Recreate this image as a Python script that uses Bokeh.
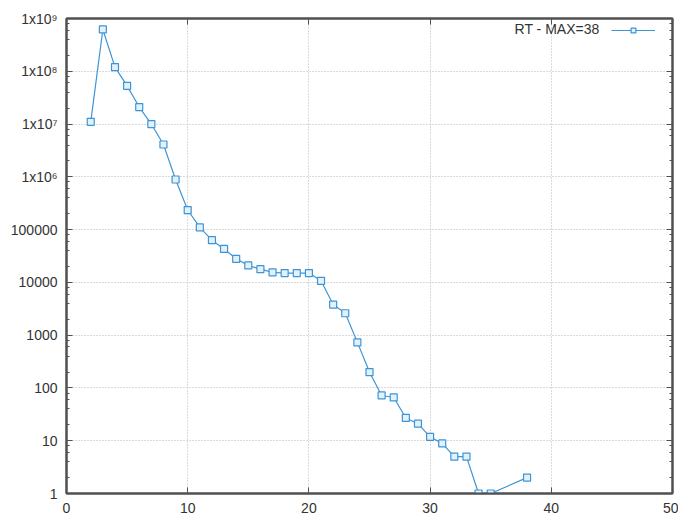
from bokeh.plotting import figure
from bokeh.models import LinearAxis, LogAxis, FixedTicker, Legend, LegendItem, Label, Grid
from bokeh.embed import file_html
from bokeh.resources import INLINE

# ---- data ----
x_vals = [2, 3, 4, 5, 6, 7, 8, 9, 10, 11, 12, 13, 14, 15, 16, 17, 18, 19, 20,
          21, 22, 23, 24, 25, 26, 27, 28, 29, 30, 31, 32, 33, 34, 35, 38]
y_vals = [1.1e7, 6.2e8, 1.2e8, 5.3e7, 2.1e7, 1.0e7, 4.1e6, 8.9e5, 2.35e5, 1.1e5,
          6.3e4, 4.3e4, 2.8e4, 2.1e4, 1.78e4, 1.55e4, 1.5e4, 1.5e4, 1.5e4,
          1.07e4, 3800, 2600, 730, 200, 72, 66, 27, 21, 11.8, 8.9, 5, 5, 1, 1, 2]
series_label = "RT - MAX=38"
x_ticks = [0, 10, 20, 30, 40, 50]
y_ticks = [1, 10, 100, 1000, 10000, 100000, 1e6, 1e7, 1e8, 1e9]
y_tick_labels = ["1", "10", "100", "1000", "10000", "100000",
                 "1x10\u2076", "1x10\u2077", "1x10\u2078", "1x10\u2079"]
y_minor = [m * 10**e for e in range(0, 9) for m in (2, 4, 6, 8)]

FONT = "Liberation Sans"
AX = "#505050"
TXT = "#333333"
BLUE = "#3d95d6"

p = figure(width=678, height=519, x_range=(0, 50), y_range=(1, 1e9),
           y_axis_type="log", output_backend="svg", toolbar_location=None,
           x_axis_type=None,
           min_border_left=66, min_border_right=6, min_border_top=18, min_border_bottom=26)
p.background_fill_color = "white"
p.outline_line_color = AX
p.outline_line_width = 2

xb = LinearAxis(ticker=FixedTicker(ticks=x_ticks))
p.add_layout(xb, "below")
xt = LinearAxis(ticker=FixedTicker(ticks=x_ticks))
p.add_layout(xt, "above")
yr = LogAxis(ticker=FixedTicker(ticks=y_ticks, minor_ticks=y_minor))
p.add_layout(yr, "right")

p.yaxis[0].ticker = FixedTicker(ticks=y_ticks, minor_ticks=y_minor)
p.yaxis[0].major_label_overrides = {t: l for t, l in zip(y_ticks, y_tick_labels)}

for ax in [xb, xt, p.yaxis[0], yr]:
    ax.axis_line_color = AX
    ax.axis_line_width = 2
    ax.major_tick_line_color = AX
    ax.minor_tick_line_color = AX
    ax.major_tick_in = 6
    ax.major_tick_out = 0
    ax.minor_tick_in = 3
    ax.minor_tick_out = 0
    ax.major_label_text_font = FONT
    ax.major_label_text_font_size = "14px"
    ax.major_label_text_color = TXT
    ax.major_label_standoff = 9

for ax in [xt, yr]:
    ax.major_label_text_font_size = "0px"
    ax.major_label_standoff = 0
    ax.major_label_text_color = None

for g in p.grid:
    g.visible = False
p.add_layout(Grid(dimension=0, ticker=FixedTicker(ticks=x_ticks[1:-1]),
                  grid_line_color="#b4b4b4", grid_line_dash="1 2", grid_line_width=1))
p.add_layout(Grid(dimension=1, ticker=FixedTicker(ticks=y_ticks[1:-1]),
                  grid_line_color="#b4b4b4", grid_line_dash="1 2", grid_line_width=1))

l = p.line(x_vals, y_vals, line_color=BLUE, line_width=1.2)
s = p.scatter(x_vals, y_vals, marker="square", size=7, line_color=BLUE,
              fill_color="#e3f1fb", line_width=1.2)

leg = Legend(items=[LegendItem(label="", renderers=[l, s])],
             location=(545, 457), glyph_width=44, glyph_height=12,
             label_standoff=0, label_width=0, padding=0, margin=0,
             border_line_color=None, background_fill_alpha=0,
             label_text_font_size="0px")
p.add_layout(leg)
p.add_layout(Label(x=533, y=457, x_units="screen", y_units="screen", text=series_label,
                   text_align="right", text_baseline="bottom", text_font=FONT,
                   text_font_size="14px", text_color=TXT))

open("out.html", "w").write(file_html(p, INLINE))
